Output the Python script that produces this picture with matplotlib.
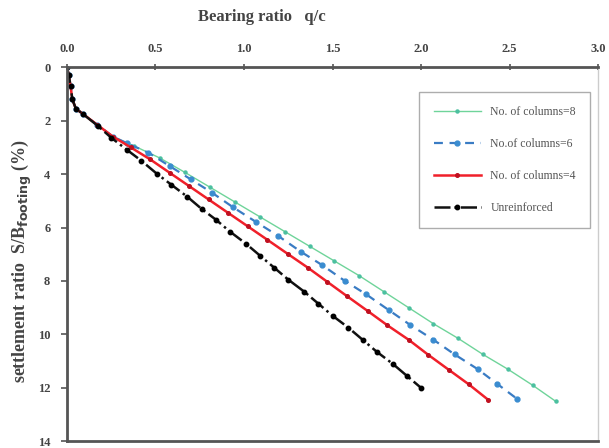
import matplotlib.pyplot as plt

# bearing ratio q/c and settlement ratio S/B (%)
q_col8 = [0, 0.01, 0.02, 0.03, 0.05, 0.09, 0.17, 0.26, 0.38, 0.525, 0.667, 0.81, 0.95,
          1.09, 1.23, 1.37, 1.51, 1.65, 1.79, 1.93, 2.07, 2.21, 2.35, 2.49, 2.63, 2.76]
s_col8 = [0, 0.3, 0.7, 1.2, 1.55, 1.75, 2.15, 2.6, 2.95, 3.4, 3.94, 4.5, 5.05,
          5.6, 6.15, 6.7, 7.25, 7.8, 8.4, 9.0, 9.6, 10.15, 10.75, 11.3, 11.9, 12.5]

q_col6 = [0, 0.01, 0.02, 0.03, 0.05, 0.09, 0.17, 0.26, 0.34, 0.46, 0.58, 0.70, 0.82,
          0.94, 1.07, 1.19, 1.32, 1.44, 1.57, 1.69, 1.82, 1.94, 2.07, 2.19, 2.32, 2.43, 2.54]
s_col6 = [0, 0.3, 0.7, 1.2, 1.55, 1.75, 2.15, 2.6, 2.85, 3.2, 3.7, 4.2, 4.7,
          5.25, 5.8, 6.3, 6.9, 7.4, 8.0, 8.5, 9.1, 9.65, 10.2, 10.75, 11.3, 11.85, 12.4]

q_col4 = [0, 0.01, 0.02, 0.03, 0.05, 0.09, 0.17, 0.26, 0.36, 0.47, 0.58, 0.69, 0.80,
          0.91, 1.02, 1.13, 1.25, 1.36, 1.47, 1.58, 1.70, 1.81, 1.93, 2.04, 2.16, 2.27, 2.38]
s_col4 = [0, 0.3, 0.7, 1.2, 1.55, 1.75, 2.15, 2.6, 3.0, 3.45, 3.95, 4.45, 4.95,
          5.45, 5.95, 6.45, 7.0, 7.5, 8.03, 8.56, 9.13, 9.66, 10.2, 10.76, 11.34, 11.87, 12.45]

q_unr = [0, 0.01, 0.02, 0.03, 0.05, 0.09, 0.175, 0.25, 0.34, 0.42, 0.51, 0.59, 0.68, 0.76,
         0.84, 0.92, 1.01, 1.09, 1.17, 1.25, 1.34, 1.42, 1.50, 1.59, 1.67, 1.75, 1.84, 1.92, 2.00]
s_unr = [0, 0.3, 0.7, 1.2, 1.55, 1.75, 2.2, 2.64, 3.1, 3.5, 4.0, 4.4, 4.85, 5.3,
         5.7, 6.15, 6.6, 7.05, 7.5, 7.95, 8.4, 8.85, 9.3, 9.75, 10.2, 10.65, 11.1, 11.55, 12.0]

x_ticks = [0.0, 0.5, 1.0, 1.5, 2.0, 2.5, 3.0]
y_ticks = [0, 2, 4, 6, 8, 10, 12, 14]

plt.rcParams['font.family'] = ['Liberation Serif', 'DejaVu Serif']

fig = plt.figure(figsize=(6.09, 4.48), dpi=100)
ax = fig.add_axes([0.11, 0.015, 0.872, 0.835])

ax.plot(q_col8, s_col8, '-', color='#6fd49a', lw=1.0, marker='o', ms=2.2,
        mfc='#4cc0a0', mec='#4cc0a0', label='No. of columns=8')
ax.plot(q_col6, s_col6, '--', color='#3a7cc4', lw=1.6, dashes=(4, 3), marker='o', ms=3.5,
        mfc='#3a8cd0', mec='#3a8cd0', label='No.of columns=6')
ax.plot(q_col4, s_col4, '-', color='#f0202a', lw=1.8, marker='o', ms=2.6,
        mfc='#c01020', mec='#c01020', label='No. of columns=4')
ax.plot(q_unr, s_unr, '-.', color='#111111', lw=1.8, marker='o', ms=3.2,
        mfc='black', mec='black', label='Unreinforced')

ax.set_xlim(0, 3.0)
ax.set_ylim(14, 0)
ax.set_xticks(x_ticks)
ax.set_xticklabels(['%.1f' % v for v in x_ticks])
ax.set_yticks(y_ticks)
ax.xaxis.tick_top()
ax.tick_params(axis='x', direction='inout', length=5, width=1.2, color='#555555',
               labelsize=9, labelcolor='#444444', pad=6)
ax.tick_params(axis='y', direction='out', length=4, width=1.2, color='#555555',
               labelsize=9, labelcolor='#444444', pad=8)
for lbl in ax.get_xticklabels() + ax.get_yticklabels():
    lbl.set_fontweight('bold')

for side in ['top', 'left', 'bottom']:
    ax.spines[side].set_color('#555555')
    ax.spines[side].set_linewidth(2.0)
ax.spines['right'].set_color('#cccccc')
ax.spines['right'].set_linewidth(1.0)

fig.text(0.43, 0.962, 'Bearing ratio   q/c', ha='center', va='center',
         fontsize=12, fontweight='bold', color='#444444')
fig.text(0.036, 0.417, 'settlement ratio  S/B$_{\\mathbf{footing}}$ (%)', rotation=90,
         ha='center', va='center', fontsize=13, fontweight='bold', color='#444444')

leg = ax.legend(loc='upper right', bbox_to_anchor=(0.985, 0.935), fontsize=8.5,
                frameon=True, fancybox=False, edgecolor='#999999', labelspacing=1.7,
                borderpad=1.2, handlelength=4.0, borderaxespad=0)
leg.get_frame().set_linewidth(1.0)
for t in leg.get_texts():
    t.set_color('#555555')

fig.savefig('out.png', dpi=100)
